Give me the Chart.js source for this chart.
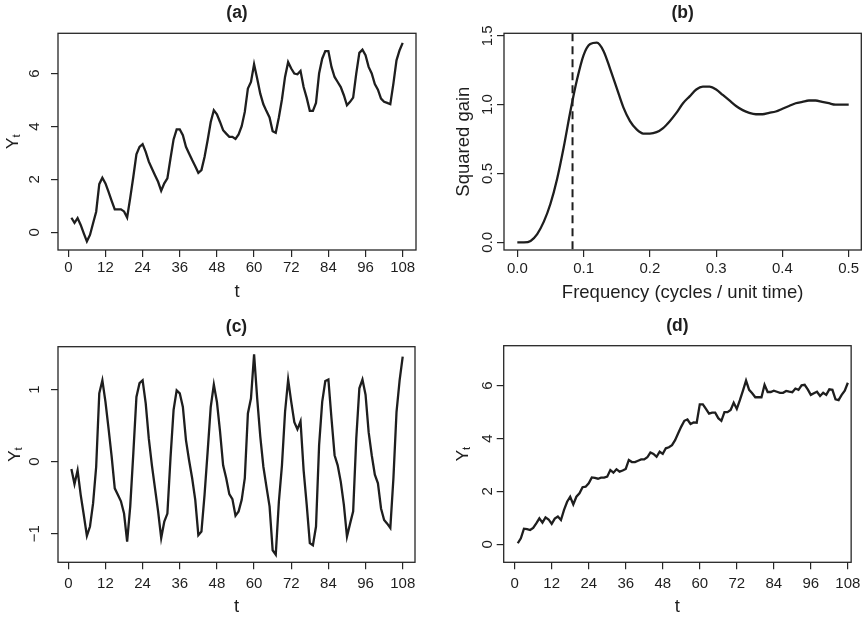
<!DOCTYPE html>
<html>
<head>
<meta charset="utf-8">
<title>Seasonal filtering</title>
<script src="https://cdn.jsdelivr.net/npm/chart.js@4.4.1/dist/chart.umd.min.js"></script>
<style>
  html, body { margin: 0; padding: 0; background: #fff; }
  #grid { position: relative; width: 866px; height: 618px; }
  #grid canvas { position: absolute; }
</style>
</head>
<body>
<div id="grid">
  <canvas id="panelA" width="433" height="309" style="left:0;top:0"></canvas>
  <canvas id="panelB" width="433" height="309" style="left:433px;top:0"></canvas>
  <canvas id="panelC" width="433" height="309" style="left:0;top:309px"></canvas>
  <canvas id="panelD" width="433" height="309" style="left:433px;top:309px"></canvas>
</div>
<script>
// ---- data ----
const timeIndex = Array.from({ length: 108 }, (_, i) => i + 1);

// (a) original monthly series
const originalSeries = [
  0.55, 0.36, 0.54, 0.28, -0.04, -0.34, -0.10, 0.34, 0.78, 1.82,
  2.06, 1.85, 1.53, 1.19, 0.87, 0.87, 0.87, 0.79, 0.56, 1.30,
  2.10, 2.95, 3.23, 3.33, 3.04, 2.67, 2.41, 2.16, 1.91, 1.57,
  1.85, 2.04, 2.79, 3.51, 3.89, 3.89, 3.67, 3.23, 2.98, 2.73,
  2.50, 2.25, 2.35, 2.85, 3.48, 4.17, 4.61, 4.46, 4.17, 3.86,
  3.73, 3.61, 3.61, 3.53, 3.70, 4.01, 4.55, 5.43, 5.68, 6.35,
  5.81, 5.24, 4.84, 4.58, 4.34, 3.82, 3.76, 4.34, 5.02, 5.87,
  6.43, 6.19, 6.00, 5.97, 6.10, 5.49, 5.08, 4.59, 4.59, 4.89,
  6.00, 6.56, 6.85, 6.85, 6.25, 5.87, 5.68, 5.49, 5.18, 4.80,
  4.93, 5.09, 6.00, 6.78, 6.90, 6.69, 6.25, 6.00, 5.60, 5.39,
  5.05, 4.93, 4.89, 4.84, 5.62, 6.50, 6.88, 7.16
];

// (b) squared gain of the filter
const frequencies = [
  0.00, 0.01, 0.02, 0.03, 0.04, 0.05, 0.06, 0.07, 0.08, 0.09,
  0.10, 0.11, 0.12, 0.13, 0.14, 0.15, 0.16, 0.17, 0.18, 0.19,
  0.20, 0.21, 0.22, 0.23, 0.24, 0.25, 0.26, 0.27, 0.28, 0.29,
  0.30, 0.31, 0.32, 0.33, 0.34, 0.35, 0.36, 0.37, 0.38, 0.39,
  0.40, 0.41, 0.42, 0.43, 0.44, 0.45, 0.46, 0.47, 0.48, 0.49,
  0.50
];
const squaredGain = [
  0.00, 0.00, 0.01, 0.06, 0.15, 0.28, 0.46, 0.69, 0.95, 1.18,
  1.36, 1.44, 1.45, 1.39, 1.26, 1.12, 0.98, 0.88, 0.82, 0.79,
  0.79, 0.80, 0.83, 0.88, 0.94, 1.01, 1.06, 1.11, 1.13, 1.13,
  1.11, 1.07, 1.03, 0.99, 0.96, 0.94, 0.93, 0.93, 0.94, 0.95,
  0.97, 0.99, 1.01, 1.02, 1.03, 1.03, 1.02, 1.01, 1.00, 1.00,
  1.00
];
const cutoffFreq = 0.0833;

// (c) high-pass filtered series
const highPassSeries = [
  -0.10, -0.31, -0.12, -0.46, -0.74, -1.03, -0.90, -0.58, -0.07, 0.95,
  1.13, 0.83, 0.46, 0.07, -0.37, -0.46, -0.55, -0.72, -1.11, -0.62,
  0.12, 0.90, 1.09, 1.13, 0.81, 0.32, -0.05, -0.37, -0.69, -1.06,
  -0.83, -0.72, 0.05, 0.72, 0.99, 0.95, 0.76, 0.30, 0.02, -0.23,
  -0.53, -1.02, -0.97, -0.46, 0.14, 0.76, 1.07, 0.83, 0.42, -0.05,
  -0.23, -0.45, -0.52, -0.75, -0.69, -0.53, -0.23, 0.67, 0.88, 1.49,
  0.88, 0.35, -0.07, -0.35, -0.62, -1.23, -1.29, -0.56, -0.05, 0.69,
  1.14, 0.83, 0.55, 0.45, 0.56, -0.12, -0.60, -1.13, -1.16, -0.90,
  0.23, 0.83, 1.12, 1.14, 0.60, 0.09, -0.05, -0.28, -0.60, -1.04,
  -0.86, -0.69, 0.32, 1.02, 1.14, 0.93, 0.41, 0.09, -0.18, -0.30,
  -0.65, -0.81, -0.86, -0.92, -0.23, 0.69, 1.13, 1.46
];

// (d) remaining low-frequency series
const lowPassSeries = [
  0.04, 0.23, 0.59, 0.57, 0.54, 0.62, 0.79, 0.98, 0.82, 1.02,
  0.94, 0.77, 0.97, 1.05, 0.92, 1.30, 1.61, 1.80, 1.51, 1.80,
  1.93, 2.16, 2.18, 2.31, 2.53, 2.51, 2.48, 2.52, 2.52, 2.56,
  2.81, 2.71, 2.84, 2.75, 2.79, 2.85, 3.19, 3.11, 3.11, 3.16,
  3.21, 3.21, 3.29, 3.47, 3.42, 3.31, 3.50, 3.42, 3.63, 3.67,
  3.75, 3.94, 4.20, 4.45, 4.67, 4.72, 4.55, 4.61, 4.60, 5.29,
  5.29, 5.12, 4.94, 4.98, 4.98, 4.77, 4.67, 5.00, 5.00, 5.08,
  5.35, 5.12, 5.45, 5.81, 6.19, 5.84, 5.71, 5.56, 5.56, 5.56,
  6.03, 5.76, 5.76, 5.81, 5.77, 5.73, 5.73, 5.80, 5.77, 5.75,
  5.89, 5.84, 6.01, 6.03, 5.86, 5.65, 5.71, 5.77, 5.61, 5.73,
  5.65, 5.86, 5.84, 5.48, 5.45, 5.65, 5.81, 6.11
];

// tick labels
const timeTicks = [0, 12, 24, 36, 48, 60, 72, 84, 96, 108];
const levelTicks = [0, 2, 4, 6];
const highPassTicks = [-1, 0, 1];
const freqTicks = [0, 0.1, 0.2, 0.3, 0.4, 0.5];
const gainTicks = [0, 0.5, 1.0, 1.5];

// ---- drawing ----
const INK = '#1e1e1e';
const FONT = '"Liberation Sans", Arial, Helvetica, sans-serif';
Chart.defaults.font.family = FONT;
Chart.defaults.color = INK;

const PANEL_W = 433, PANEL_H = 309;

function points(xs, ys) {
  return xs.map((x, i) => ({ x: x, y: ys[i] }));
}

function plainNum(v) {
  return v < 0 ? '\u2212' + Math.abs(v) : String(v);
}

// box around the plotting region
const framePlugin = {
  id: 'frame',
  afterDraw(chart) {
    const { ctx, chartArea: a } = chart;
    ctx.save();
    ctx.strokeStyle = '#262626';
    ctx.lineWidth = 1.3;
    ctx.strokeRect(a.left, a.top, a.right - a.left, a.bottom - a.top);
    ctx.restore();
  }
};

// dashed reference line at the seasonal frequency
const cutoffPlugin = {
  id: 'cutoff',
  afterDatasetsDraw(chart, args, opts) {
    if (opts.value === undefined) return;
    const { ctx, chartArea: a } = chart;
    const x = chart.scales.x.getPixelForValue(opts.value);
    ctx.save();
    ctx.strokeStyle = INK;
    ctx.lineWidth = 2;
    ctx.setLineDash([8, 5]);
    ctx.beginPath();
    ctx.moveTo(x, a.top);
    ctx.lineTo(x, a.bottom);
    ctx.stroke();
    ctx.restore();
  }
};

// panel heading and the Y_t axis label with its subscript
const panelTextPlugin = {
  id: 'panelText',
  afterDraw(chart, args, opts) {
    const { ctx, chartArea: a } = chart;
    ctx.save();
    ctx.fillStyle = INK;
    ctx.font = 'bold 17.5px ' + FONT;
    ctx.textAlign = 'center';
    ctx.textBaseline = 'middle';
    ctx.fillText(opts.title, (a.left + a.right) / 2, a.top - 20);

    if (opts.yLabelX !== undefined) {
      const mid = (a.top + a.bottom) / 2;
      ctx.translate(opts.yLabelX, mid);
      ctx.rotate(-Math.PI / 2);
      ctx.textAlign = 'left';
      ctx.textBaseline = 'alphabetic';
      ctx.font = '17px ' + FONT;
      const wY = ctx.measureText('Y').width;
      ctx.font = '11.5px ' + FONT;
      const wt = ctx.measureText('t').width;
      const start = -(wY + wt) / 2;
      ctx.font = '17px ' + FONT;
      ctx.fillText('Y', start, 0);
      ctx.font = '11.5px ' + FONT;
      ctx.fillText('t', start + wY, 2);
    }
    ctx.restore();
  }
};

function makePanel(canvasId, p) {
  const ctx = document.getElementById(canvasId).getContext('2d');
  return new Chart(ctx, {
    type: 'line',
    data: {
      datasets: [{
        data: points(p.xs, p.ys),
        borderColor: INK,
        borderWidth: 2.3,
        pointRadius: 0,
        tension: 0,
        cubicInterpolationMode: p.smooth ? 'monotone' : 'default',
        fill: false
      }]
    },
    options: {
      responsive: false,
      animation: false,
      events: [],
      layout: {
        padding: { left: 0, top: p.box.top, right: PANEL_W - p.box.right, bottom: 0 }
      },
      scales: {
        x: {
          type: 'linear',
          min: p.xRange[0],
          max: p.xRange[1],
          afterBuildTicks: s => { s.ticks = p.xTicks.map(v => ({ value: v })); },
          afterFit: s => { s.height = PANEL_H - p.box.bottom; },
          border: { display: false },
          grid: { drawOnChartArea: false, drawTicks: true, tickLength: 7, color: '#262626', lineWidth: 1.2 },
          ticks: {
            autoSkip: false, maxRotation: 0, padding: p.xTickPad,
            font: { size: 15 }, color: INK, callback: p.xFormat
          },
          title: {
            display: true, text: p.xTitle, color: INK,
            font: { size: 18.5 }, padding: { top: 0, bottom: p.xTitlePad }
          }
        },
        y: {
          type: 'linear',
          min: p.yRange[0],
          max: p.yRange[1],
          afterBuildTicks: s => { s.ticks = p.yTicks.map(v => ({ value: v })); },
          afterFit: s => { s.width = p.box.left; },
          border: { display: false },
          grid: { drawOnChartArea: false, drawTicks: true, tickLength: 7, color: '#262626', lineWidth: 1.2 },
          ticks: {
            autoSkip: false, minRotation: 90, maxRotation: 90, crossAlign: 'center',
            padding: p.yTickPad, font: { size: 15 }, color: INK, callback: p.yFormat
          },
          title: p.yTitle ? {
            display: true, text: p.yTitle, color: INK,
            font: { size: 18.5 }, padding: { top: p.yTitlePad, bottom: 0 }
          } : { display: false }
        }
      },
      plugins: {
        legend: { display: false },
        tooltip: { enabled: false },
        panelText: { title: p.title, yLabelX: p.yLabelX },
        cutoff: { value: p.cutoff }
      }
    },
    plugins: [framePlugin, cutoffPlugin, panelTextPlugin]
  });
}

makePanel('panelA', {
  title: '(a)', xs: timeIndex, ys: originalSeries,
  box: { left: 58, top: 33.3, right: 416, bottom: 250 },
  xRange: [-3.33, 112.3], yRange: [-0.668, 7.52],
  xTicks: timeTicks, yTicks: levelTicks,
  xFormat: v => String(v), yFormat: plainNum,
  xTickPad: 2, yTickPad: 12, xTitle: 't', xTitlePad: 6.3, yLabelX: 17.5
});

makePanel('panelB', {
  title: '(b)', xs: frequencies, ys: squaredGain, smooth: true, cutoff: cutoffFreq,
  box: { left: 71, top: 33.3, right: 428.3, bottom: 250 },
  xRange: [-0.0201, 0.519], yRange: [-0.056, 1.518],
  xTicks: freqTicks, yTicks: gainTicks,
  xFormat: v => v.toFixed(1), yFormat: v => v.toFixed(1),
  xTickPad: 3, yTickPad: -1, xTitle: 'Frequency (cycles / unit time)', xTitlePad: 5.3,
  yTitle: 'Squared gain', yTitlePad: 19.7
});

makePanel('panelC', {
  title: '(c)', xs: timeIndex, ys: highPassSeries,
  box: { left: 58, top: 37.7, right: 415, bottom: 253.3 },
  xRange: [-3.33, 111.97], yRange: [-1.397, 1.597],
  xTicks: timeTicks, yTicks: highPassTicks,
  xFormat: v => String(v), yFormat: plainNum,
  xTickPad: 5.5, yTickPad: 7.7, xTitle: 't', xTitlePad: 0, yLabelX: 19.5
});

makePanel('panelD', {
  title: '(d)', xs: timeIndex, ys: lowPassSeries,
  box: { left: 70.7, top: 36.7, right: 418.3, bottom: 253.3 },
  xRange: [-3.56, 109.07], yRange: [-0.68, 7.51],
  xTicks: timeTicks, yTicks: levelTicks,
  xFormat: v => String(v), yFormat: plainNum,
  xTickPad: 5.5, yTickPad: 5.1, xTitle: 't', xTitlePad: 0, yLabelX: 35
});
</script>
</body>
</html>
